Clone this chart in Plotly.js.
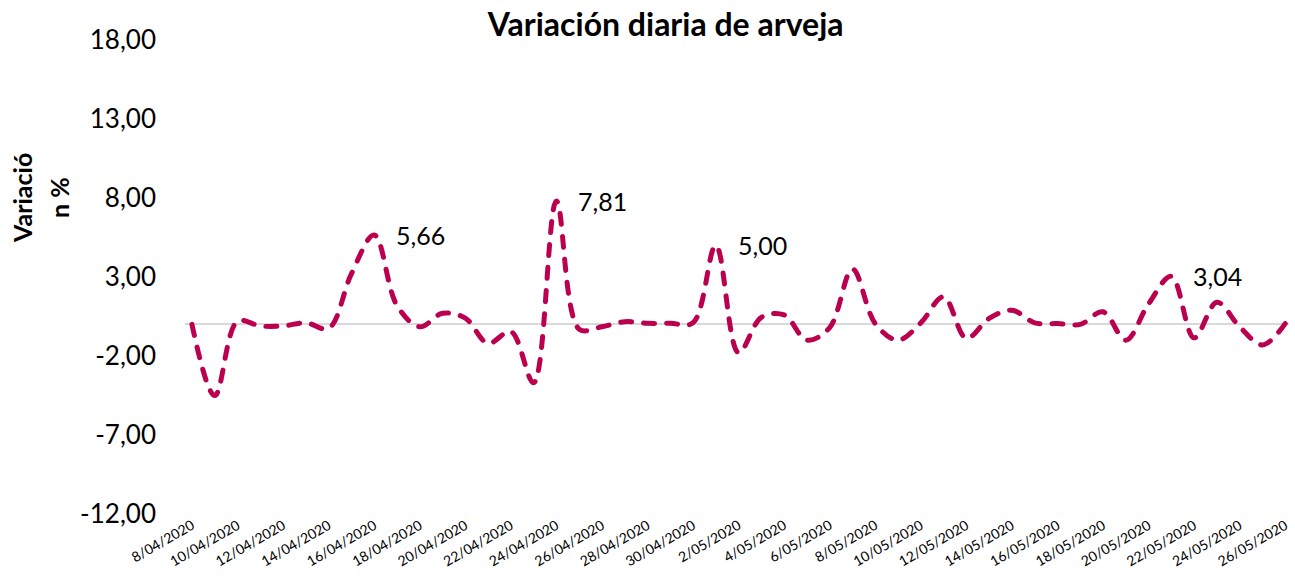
<!DOCTYPE html>
<html>
<head>
<meta charset="utf-8">
<script src="https://cdn.plot.ly/plotly-3.0.1.min.js"></script>
<style>
html,body{margin:0;padding:0;background:#fff;}
#chart{width:1295px;height:579px;}
.scatterlayer .js-line{stroke-linecap:round !important;}
</style>
</head>
<body>
<div id="chart"></div>
<script>
const dates = [
  '2020-04-08','2020-04-09','2020-04-10','2020-04-11','2020-04-12','2020-04-13','2020-04-14',
  '2020-04-15','2020-04-16','2020-04-17','2020-04-18','2020-04-19','2020-04-20','2020-04-21',
  '2020-04-22','2020-04-23','2020-04-24','2020-04-25','2020-04-26','2020-04-27','2020-04-28',
  '2020-04-29','2020-04-30','2020-05-01','2020-05-02','2020-05-03','2020-05-04','2020-05-05',
  '2020-05-06','2020-05-07','2020-05-08','2020-05-09','2020-05-10','2020-05-11','2020-05-12',
  '2020-05-13','2020-05-14','2020-05-15','2020-05-16','2020-05-17','2020-05-18','2020-05-19',
  '2020-05-20','2020-05-21','2020-05-22','2020-05-23','2020-05-24','2020-05-25','2020-05-26'
];
const variacion = [
  0.00, -4.50, 0.20, -0.10, -0.10, 0.10, -0.25,
  3.20, 5.66, 1.20, -0.15, 0.70, 0.40, -1.20,
  -0.45, -3.70, 7.81, -0.30, -0.15, 0.17, 0.07,
  0.07, 0.10, 5.00, -1.80, 0.45, 0.60, -1.00,
  -0.20, 3.50, 0.05, -1.00, 0.10, 1.75, -0.88,
  0.38, 0.90, 0.10, 0.05, 0.00, 0.80, -1.00,
  1.30, 3.04, -0.85, 1.40, -0.15, -1.30, 0.05
];
const labelIdx = [8, 16, 23, 43];
const yTickVals = [-12, -7, -2, 3, 8, 13, 18];
const yTickText = ['-12,00', '-7,00', '-2,00', '3,00', '8,00', '13,00', '18,00'];
const chartTitle = 'Variación diaria de arveja';
const yTitleLines = ['Variació', 'n %'];

const FONT = 'Lato, "Open Sans", sans-serif';
const lineColor = '#BA004F';

const trace = {
  x: dates,
  y: variacion,
  type: 'scatter',
  mode: 'lines',
  line: {color: lineColor, width: 5, shape: 'spline', smoothing: 1, dash: '11px,12px'},
  hoverinfo: 'skip'
};

const annotations = labelIdx.map(i => ({
  x: dates[i], y: variacion[i], xref: 'x', yref: 'y',
  text: variacion[i].toFixed(2).replace('.', ','),
  showarrow: false, xanchor: 'left', yanchor: 'middle', xshift: 20,
  font: {family: FONT, size: 25, color: '#000'}
}));
const yTitleX = [-0.1475, -0.1140];
yTitleLines.forEach((t, k) => annotations.push({
  x: yTitleX[k], y: 0.667, xref: 'paper', yref: 'paper',
  text: t, textangle: -90, showarrow: false,
  xanchor: 'center', yanchor: 'middle', align: 'center',
  font: {family: FONT, size: 25, color: '#000', weight: 'bold'}
}));

const layout = {
  width: 1295, height: 579,
  margin: {l: 185, r: 6, t: 40, b: 65},
  paper_bgcolor: '#fff', plot_bgcolor: '#fff',
  showlegend: false,
  title: {
    text: '<b>' + chartTitle + '</b>',
    x: 0.514, xref: 'container', xanchor: 'center',
    y: 0.957, yref: 'container', yanchor: 'middle',
    font: {family: FONT, size: 32, color: '#000'}
  },
  xaxis: {
    type: 'date',
    range: ['2020-04-07 16:40', '2020-05-26 04:00'],
    tick0: '2020-04-08', dtick: 172800000,
    tickformat: '%-d/%m/%Y',
    tickangle: -30,
    ticklabeloverflow: 'allow',
    tickfont: {family: FONT, size: 14, color: '#000'},
    showgrid: false, zeroline: false, showline: false, ticks: ''
  },
  yaxis: {
    range: [-12, 18],
    tickvals: yTickVals, ticktext: yTickText,
    tickfont: {family: FONT, size: 26, color: '#000'},
    showgrid: false, showline: false, ticks: '',
    ticklabelstandoff: 28,
    zeroline: true, zerolinecolor: '#d9d9d9', zerolinewidth: 2
  },
  annotations: annotations
};

Plotly.newPlot('chart', [trace], layout, {displayModeBar: false, staticPlot: true});
</script>
</body>
</html>
